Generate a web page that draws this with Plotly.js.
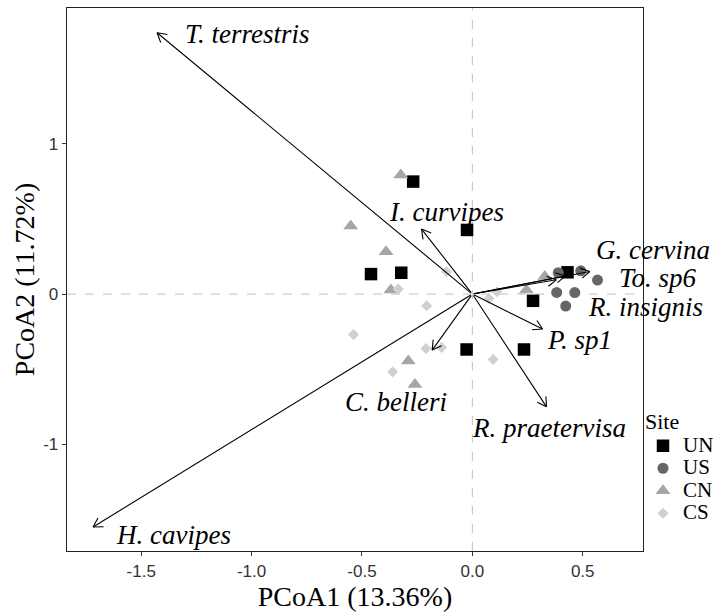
<!DOCTYPE html>
<html>
<head>
<meta charset="utf-8">
<script src="https://cdn.plot.ly/plotly-3.0.1.min.js"></script>
<style>html,body{margin:0;padding:0;background:#fff;}</style>
</head>
<body>
<div id="chart" style="width:724px;height:612px;"></div>
<script>
// Site scores (PCoA1, PCoA2)
var unX = [-0.268, -0.024, -0.459, -0.322, -0.026, 0.431, 0.275, 0.234];
var unY = [0.749, 0.427, 0.133, 0.142, -0.369, 0.145, -0.045, -0.369];
var usX = [0.389, 0.491, 0.567, 0.382, 0.464, 0.423];
var usY = [0.142, 0.155, 0.093, 0.011, 0.010, -0.080];
var cnX = [-0.324, -0.551, -0.391, -0.369, -0.290, -0.260, 0.245, 0.328];
var cnY = [0.793, 0.453, 0.282, 0.027, -0.445, -0.602, 0.027, 0.117];
var csX = [-0.117, -0.336, -0.207, -0.538, -0.210, -0.139, -0.361, 0.094, 0.075, 0.111];
var csY = [0.149, 0.033, -0.078, -0.270, -0.362, -0.355, -0.518, -0.435, -0.030, 0.015];

// Species vectors (arrow tips) and label positions (left edge, middle)
var species = ['T. terrestris', 'H. cavipes', 'I. curvipes', 'C. belleri', 'R. praetervisa', 'P. sp1', 'G. cervina', 'To. sp6', 'R. insignis'];
var vecX = [-1.428, -1.718, -0.230, -0.182, 0.336, 0.318, 0.532, 0.420, 0.380];
var vecY = [1.740, -1.551, 0.433, -0.373, -0.751, -0.233, 0.150, 0.120, 0.095];
var labX = [-1.309, -1.625, -0.388, -0.587, -0.011, 0.328, 0.550, 0.653, 0.517];
var labY = [1.733, -1.607, 0.549, -0.718, -0.893, -0.307, 0.293, 0.105, -0.085];

var siteNames = ['UN', 'US', 'CN', 'CS'];
var xTicks = [-1.5, -1.0, -0.5, 0.0, 0.5];
var xTickText = ['-1.5', '-1.0', '-0.5', '0.0', '0.5'];
var yTicks = [-1, 0, 1];
var yTickText = ['-1', '0', '1'];

var serif = 'Liberation Serif, Times New Roman, serif';
var sans = 'Liberation Sans, Arial, sans-serif';

var W = 724, H = 612;
var margin = {l: 67, r: 81, t: 8, b: 61, autoexpand: false};
var xRange = [-1.836, 0.773];
var yRange = [-1.711, 1.905];

function site(name, xs, ys, symbol, color, size) {
  return {
    type: 'scatter', mode: 'markers', x: xs, y: ys,
    name: '<span style="font-size:21px">' + name + '</span>',
    marker: {symbol: symbol, color: color, size: size, line: {width: 0}},
    cliponaxis: false, hoverinfo: 'x+y'
  };
}

var traces = [
  site(siteNames[0], unX, unY, 'square', '#000000', 12.5),
  site(siteNames[1], usX, usY, 'circle', '#666666', 11),
  site(siteNames[2], cnX, cnY, 'triangle-up', '#A6A6A6', 13),
  site(siteNames[3], csX, csY, 'diamond', '#D0D0D0', 8.5)
];

// pixel scale of the axes, used only to orient the open arrow heads
var pxPerX = (W - margin.l - margin.r) / (xRange[1] - xRange[0]);
var pxPerY = (H - margin.t - margin.b) / (yRange[1] - yRange[0]);
var headLen = 12, headAng = 30 * Math.PI / 180;

var annotations = [];
for (var i = 0; i < species.length; i++) {
  annotations.push({
    x: vecX[i], y: vecY[i], ax: 0, ay: 0, xref: 'x', yref: 'y', axref: 'x', ayref: 'y',
    text: '', showarrow: true, arrowhead: 0, arrowwidth: 1.1,
    arrowcolor: '#000000', standoff: 0, startstandoff: 0
  });
  var dx = vecX[i] * pxPerX, dy = -vecY[i] * pxPerY;
  var len = Math.sqrt(dx * dx + dy * dy);
  var bx = -dx / len, by = -dy / len;
  [headAng, -headAng].forEach(function (a) {
    var rx = bx * Math.cos(a) - by * Math.sin(a);
    var ry = bx * Math.sin(a) + by * Math.cos(a);
    annotations.push({
      x: vecX[i], y: vecY[i], ax: rx * headLen, ay: ry * headLen, xref: 'x', yref: 'y',
      axref: 'pixel', ayref: 'pixel',
      text: '', showarrow: true, arrowhead: 0, arrowwidth: 1.1,
      arrowcolor: '#000000', standoff: 0, startstandoff: 0
    });
  });
}
for (var j = 0; j < species.length; j++) {
  annotations.push({
    x: labX[j], y: labY[j], xref: 'x', yref: 'y', text: '<i>' + species[j] + '</i>',
    showarrow: false, xanchor: 'left', yanchor: 'middle',
    font: {family: serif, size: 27, color: '#000000'}
  });
}

var layout = {
  width: W, height: H,
  margin: margin,
  paper_bgcolor: '#ffffff', plot_bgcolor: '#ffffff',
  showlegend: true,
  legend: {
    x: 1.0, xanchor: 'left', y: 0.286, yanchor: 'top',
    bgcolor: 'rgba(0,0,0,0)', borderwidth: 0,
    font: {family: serif, size: 15, color: '#000000'},
    title: {text: '<span style="font-size:22px">Site</span>', font: {family: serif, size: 26, color: '#000000'}},
    itemwidth: 30
  },
  xaxis: {
    range: xRange, tickvals: xTicks, ticktext: xTickText,
    showgrid: false, zeroline: false, showline: true, mirror: true,
    linecolor: '#222222', linewidth: 1.3, ticks: 'outside', ticklen: 4, tickcolor: '#333333',
    tickfont: {family: sans, size: 17, color: '#333333'},
    automargin: true,
    title: {text: 'PCoA1 (13.36%)', font: {family: serif, size: 28, color: '#000000'}, standoff: 0}
  },
  yaxis: {
    range: yRange, tickvals: yTicks, ticktext: yTickText,
    showgrid: false, zeroline: false, showline: true, mirror: true,
    linecolor: '#222222', linewidth: 1.3, ticks: 'outside', ticklen: 4, tickcolor: '#333333',
    tickfont: {family: sans, size: 17, color: '#333333'},
    automargin: true,
    title: {text: 'PCoA2 (11.72%)', font: {family: serif, size: 28, color: '#000000'}, standoff: 0}
  },
  shapes: [
    {type: 'line', xref: 'x', yref: 'paper', x0: 0, x1: 0, y0: 0, y1: 1, layer: 'below',
     line: {color: '#C0C0C0', width: 1, dash: 'dash'}},
    {type: 'line', xref: 'paper', yref: 'y', x0: 0, x1: 1, y0: 0, y1: 0, layer: 'below',
     line: {color: '#C0C0C0', width: 1, dash: 'dash'}}
  ],
  annotations: annotations
};

Plotly.newPlot('chart', traces, layout, {displayModeBar: false, staticPlot: true});
</script>
</body>
</html>
